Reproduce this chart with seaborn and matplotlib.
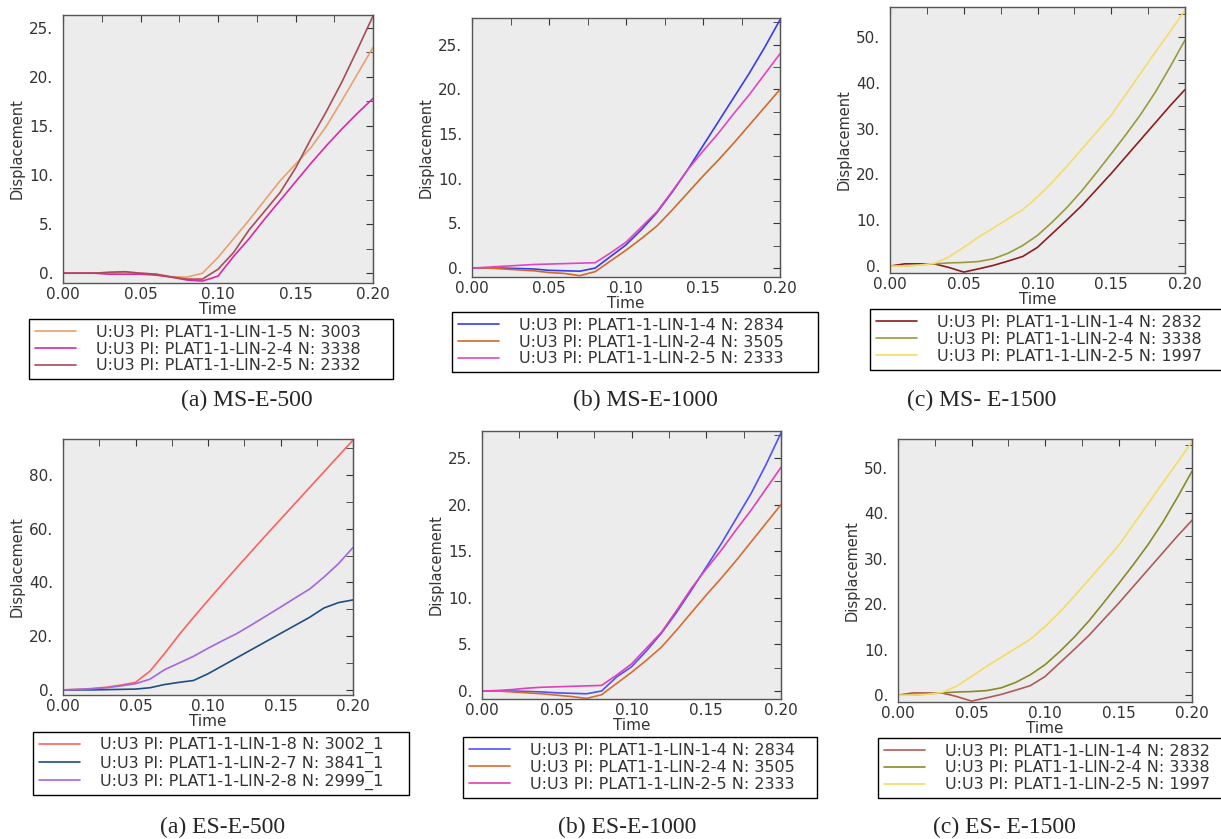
import numpy as np
import pandas as pd
import seaborn as sns
import matplotlib.pyplot as plt
from matplotlib.ticker import MultipleLocator, FuncFormatter

# time grid shared by every curve (s)
time = [0.00, 0.01, 0.02, 0.03, 0.04, 0.05, 0.06, 0.07, 0.08, 0.09, 0.10,
        0.11, 0.12, 0.13, 0.14, 0.15, 0.16, 0.17, 0.18, 0.19, 0.20]

# (a) MS-E-500
ms500_labels = ["U:U3 PI: PLAT1-1-LIN-1-5 N: 3003",
                "U:U3 PI: PLAT1-1-LIN-2-4 N: 3338",
                "U:U3 PI: PLAT1-1-LIN-2-5 N: 2332"]
ms500_a = [0, 0, 0, 0.05, 0.1, 0, -0.1, -0.35, -0.4, 0.0, 1.6, 3.5, 5.4, 7.4, 9.4, 11.1, 12.8, 15.0, 17.6, 20.3, 23.0]
ms500_b = [0, 0, 0, -0.1, -0.1, -0.1, -0.2, -0.4, -0.7, -0.8, -0.3, 1.7, 3.5, 5.5, 7.4, 9.3, 11.2, 13.0, 14.7, 16.3, 17.8]
ms500_c = [0, 0, 0, 0.1, 0.15, 0, -0.1, -0.4, -0.6, -0.6, 0.4, 2.1, 4.4, 6.3, 8.2, 10.7, 13.7, 16.5, 19.5, 22.8, 26.2]

# (b) MS-E-1000
ms1000_labels = ["U:U3 PI: PLAT1-1-LIN-1-4 N: 2834",
                 "U:U3 PI: PLAT1-1-LIN-2-4 N: 3505",
                 "U:U3 PI: PLAT1-1-LIN-2-5 N: 2333"]
ms1000_a = [0, 0, 0, -0.05, -0.1, -0.25, -0.3, -0.35, 0.0, 1.3, 2.6, 4.3, 6.2, 8.5, 11.0, 13.7, 16.4, 19.1, 21.8, 24.7, 27.8]
ms1000_b = [0, 0, -0.1, -0.2, -0.3, -0.5, -0.6, -0.85, -0.4, 0.8, 2.0, 3.3, 4.7, 6.5, 8.4, 10.3, 12.1, 14.0, 16.0, 18.0, 20.0]
ms1000_c = [0, 0.1, 0.2, 0.3, 0.4, 0.45, 0.5, 0.55, 0.6, 1.7, 2.9, 4.6, 6.3, 8.6, 11.0, 13.1, 15.1, 17.3, 19.4, 21.7, 24.0]

# (c) MS-E-1500
ms1500_labels = ["U:U3 PI: PLAT1-1-LIN-1-4 N: 2832",
                 "U:U3 PI: PLAT1-1-LIN-2-4 N: 3338",
                 "U:U3 PI: PLAT1-1-LIN-2-5 N: 1997"]
ms1500_a = [0, 0.5, 0.5, 0.5, -0.3, -1.3, -0.6, 0.15, 1.1, 2.1, 4.1, 7.1, 10.1, 13.2, 16.7, 20.2, 23.9, 27.6, 31.3, 35.0, 38.5]
ms1500_b = [0, 0, 0.3, 0.5, 0.7, 0.8, 1.0, 1.6, 2.8, 4.5, 6.7, 9.6, 12.8, 16.4, 20.4, 24.5, 28.7, 33.1, 38.0, 43.5, 49.3]
ms1500_c = [0, 0, 0.2, 0.6, 2.0, 4.1, 6.3, 8.3, 10.3, 12.3, 15.1, 18.3, 21.8, 25.5, 29.2, 32.9, 37.5, 42.1, 46.7, 51.2, 55.8]

# (a) ES-E-500
es500_labels = ["U:U3 PI: PLAT1-1-LIN-1-8 N: 3002_1",
                "U:U3 PI: PLAT1-1-LIN-2-7 N: 3841_1",
                "U:U3 PI: PLAT1-1-LIN-2-8 N: 2999_1"]
es500_a = [0, 0.2, 0.5, 1.0, 1.8, 2.8, 7.0, 13.5, 20.5, 27.0, 33.3, 39.5, 45.6, 51.6, 57.6, 63.5, 69.4, 75.3, 81.2, 87.1, 93.0]
es500_b = [0, 0, 0, 0.1, 0.2, 0.3, 0.8, 2.0, 2.8, 3.5, 6.0, 9.0, 12.0, 15.0, 18.0, 21.0, 24.0, 27.0, 30.5, 32.5, 33.5]
es500_c = [0, 0.2, 0.4, 0.8, 1.5, 2.3, 4.0, 7.5, 10.0, 12.5, 15.5, 18.3, 21.0, 24.2, 27.5, 30.8, 34.2, 37.5, 42.0, 47.0, 53.0]

# (b) ES-E-1000
es1000_labels = ms1000_labels
es1000_a = [0, 0, 0, -0.05, -0.1, -0.2, -0.25, -0.3, 0.0, 1.5, 2.6, 4.3, 6.2, 8.4, 10.8, 13.3, 15.8, 18.5, 21.2, 24.3, 27.7]
es1000_b = [0, 0, -0.1, -0.2, -0.3, -0.45, -0.6, -0.8, -0.4, 0.8, 2.0, 3.3, 4.7, 6.5, 8.4, 10.3, 12.1, 14.0, 16.0, 18.0, 20.0]
es1000_c = [0, 0.05, 0.15, 0.3, 0.4, 0.45, 0.5, 0.55, 0.6, 1.7, 2.9, 4.6, 6.3, 8.6, 11.0, 13.1, 15.1, 17.3, 19.4, 21.7, 24.0]

# (c) ES-E-1500
es1500_labels = ms1500_labels
es1500_a = [0, 0.5, 0.5, 0.5, -0.3, -1.3, -0.6, 0.15, 1.1, 2.1, 4.1, 7.1, 10.1, 13.2, 16.7, 20.2, 23.9, 27.6, 31.3, 35.0, 38.5]
es1500_b = [0, 0, 0.3, 0.5, 0.7, 0.8, 1.0, 1.6, 2.8, 4.5, 6.7, 9.6, 12.8, 16.4, 20.4, 24.5, 28.7, 33.1, 38.0, 43.5, 49.3]
es1500_c = [0, 0, 0.2, 0.6, 2.0, 4.1, 6.3, 8.3, 10.3, 12.3, 15.1, 18.3, 21.8, 25.5, 29.2, 32.9, 37.5, 42.1, 46.7, 51.2, 55.8]

captions = ["(a) MS-E-500", "(b) MS-E-1000", "(c) MS- E-1500",
            "(a) ES-E-500", "(b) ES-E-1000", "(c) ES- E-1500"]

sns.set_style("white")
plt.rcParams["font.family"] = ["DejaVu Sans"]

W, H = 1221, 839
fig = plt.figure(figsize=(W / 100, H / 100), dpi=100)

def fx(px):
    return px / W

def fy(py):
    return 1 - py / H

panels = [
    # series, labels, colors, axes box (px), ylim, ystep, legend box (px), caption pos (px)
    ([ms500_a, ms500_b, ms500_c], ms500_labels, ["#E8A070", "#D82AA8", "#A84C55"],
     (63, 15, 373, 283), (-1.0, 26.3), 5, (29, 319, 393, 379), (247, 400)),
    ([ms1000_a, ms1000_b, ms1000_c], ms1000_labels, ["#3A3AF0", "#D0692A", "#E046C0"],
     (472, 18, 780, 277), (-1.0, 28.0), 5, (452, 313, 818, 371), (645, 400)),
    ([ms1500_a, ms1500_b, ms1500_c], ms1500_labels, ["#8B1E1E", "#9A9A3C", "#F5DC6A"],
     (890, 7, 1185, 273), (-1.5, 56.5), 10, (870, 309, 1223, 370), (982, 400)),
    ([es500_a, es500_b, es500_c], es500_labels, ["#FF6060", "#1F4F80", "#A565E0"],
     (63, 439, 353, 695), (-1.9, 93.4), 20, (33, 732, 409, 795), (223, 827)),
    ([es1000_a, es1000_b, es1000_c], es1000_labels, ["#5050FF", "#D86C30", "#E040B8"],
     (482, 431, 781, 699), (-0.86, 27.9), 5, (463, 737, 817, 798), (627, 827)),
    ([es1500_a, es1500_b, es1500_c], es1500_labels, ["#B05A5A", "#8A8A28", "#F5DC60"],
     (898, 439, 1192, 702), (-1.5, 56.4), 10, (878, 738, 1223, 798), (1004, 827)),
]

for (series, labels, colors, box, ylim, ystep, lbox, cap), caption in zip(panels, captions):
    x0, y0, x1, y1 = box
    ax = fig.add_axes([fx(x0), fy(y1), fx(x1 - x0), (y1 - y0) / H])
    ax.set_facecolor("#ECECEC")
    for vals, lab, col in zip(series, labels, colors):
        df = pd.DataFrame({"Time": time, "Displacement": vals})
        sns.lineplot(data=df, x="Time", y="Displacement", ax=ax, color=col,
                     label=lab, linewidth=1.2, estimator=None, sort=False)
    if ax.get_legend() is not None:
        ax.get_legend().remove()

    ax.set_xlim(0, 0.2)
    ax.set_ylim(*ylim)
    ax.xaxis.set_major_locator(MultipleLocator(0.05))
    ax.xaxis.set_minor_locator(MultipleLocator(0.025))
    ax.yaxis.set_major_locator(MultipleLocator(ystep))
    ax.yaxis.set_minor_locator(MultipleLocator(ystep / 2))
    ax.xaxis.set_major_formatter(FuncFormatter(lambda v, p: f"{v:.2f}"))
    ax.yaxis.set_major_formatter(FuncFormatter(lambda v, p: f"{v:.0f}."))
    ax.tick_params(axis="x", which="both", direction="in", top=True, length=5,
                   color="#333333", labelsize=11, labelcolor="#333333", pad=3)
    ax.tick_params(axis="y", which="major", direction="out", length=5,
                   color="#333333", labelsize=11, labelcolor="#333333", pad=2)
    ax.tick_params(axis="y", which="minor", direction="in", length=5, color="#333333")
    right = ax.secondary_yaxis("right")
    right.yaxis.set_major_locator(MultipleLocator(ystep))
    right.yaxis.set_minor_locator(MultipleLocator(ystep / 2))
    right.tick_params(which="both", direction="in", length=5, color="#333333", labelright=False)
    right.spines["right"].set_color("#555555")
    for s in ax.spines.values():
        s.set_color("#555555")
        s.set_linewidth(1.0)
    ax.set_xlabel("Time", fontsize=11, color="#333333", labelpad=0)
    ax.set_ylabel("Displacement", fontsize=10.5, color="#333333", labelpad=3)

    handles, labs = ax.get_legend_handles_labels()
    lx0, ly0, lx1, ly1 = lbox
    leg = fig.legend(handles, labs, loc="center", mode="expand",
                     bbox_to_anchor=(fx(lx0), fy(ly1), fx(lx1 - lx0), (ly1 - ly0) / H),
                     fontsize=11.5, frameon=True, fancybox=False, framealpha=1,
                     edgecolor="black", handlelength=2.6, handletextpad=1.25,
                     labelspacing=0.12, borderpad=0.35, borderaxespad=0)
    leg.get_frame().set_linewidth(1.0)
    for t in leg.get_texts():
        t.set_color("#333333")

    fig.text(fx(cap[0]), fy(cap[1]), caption, ha="center", va="center",
             fontsize=17, family="Liberation Serif")

fig.savefig("out.png", dpi=100)
